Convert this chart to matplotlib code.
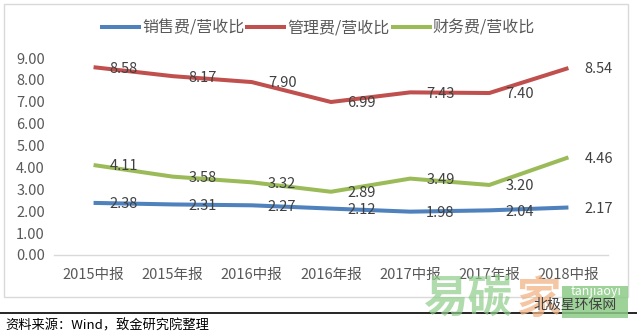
import matplotlib
matplotlib.use("Agg")
import matplotlib.pyplot as plt
from matplotlib.patches import Rectangle
from matplotlib.lines import Line2D

plt.rcParams["font.family"] = ["Noto Sans CJK SC", "DejaVu Sans"]

W, H = 637, 334

categories = ["2015中报", "2015年报", "2016中报", "2016年报", "2017中报", "2017年报", "2018中报"]
series_names = ["销售费/营收比", "管理费/营收比", "财务费/营收比"]
sales = [2.38, 2.31, 2.27, 2.12, 1.98, 2.04, 2.17]
admin = [8.58, 8.17, 7.90, 6.99, 7.43, 7.40, 8.54]
finance = [4.11, 3.58, 3.32, 2.89, 3.49, 3.20, 4.46]
yticks = [0, 1, 2, 3, 4, 5, 6, 7, 8, 9]
colors = ["#4F81BD", "#C0504D", "#9BBB59"]
source = "资料来源：Wind，致金研究院整理"


def fx(x):
    return x / W


def fy(y):
    return 1 - y / H


fig = plt.figure(figsize=(W / 100, H / 100), dpi=100)
fig.patch.set_facecolor("white")

# outer chart frame
fig.patches.append(Rectangle((fx(4), fy(297)), fx(624), 293 / H, transform=fig.transFigure,
                             fill=False, edgecolor="#d9d9d9", lw=1.0))

ax = fig.add_axes([fx(54), fy(255), fx(608 - 54), (255 - 58) / H])
ax.set_facecolor("none")
x = list(range(len(categories)))
for vals, c, name in zip([sales, admin, finance], colors, series_names):
    ax.plot(x, vals, color=c, lw=2.9, solid_capstyle="butt", label=name)
    for xi, v in zip(x, vals):
        ax.annotate(f"{v:.2f}", (xi, v), xytext=(11.5, -1), textcoords="offset points",
                    ha="left", va="center", fontsize=10.5, color="#404040")

ax.set_xlim(-0.5, len(categories) - 0.5)
ax.set_ylim(0, 9)
ax.set_yticks(yticks)
ax.set_yticklabels([f"{v:.2f}" for v in yticks])
ax.set_xticks(x)
ax.set_xticklabels(categories)
ax.tick_params(axis="both", length=0, labelsize=10.5, labelcolor="#595959")
ax.tick_params(axis="x", pad=9)
ax.tick_params(axis="y", pad=6.5)
for s in ["top", "right", "left"]:
    ax.spines[s].set_visible(False)
ax.spines["bottom"].set_color("#d9d9d9")
ax.spines["bottom"].set_linewidth(1.0)

handles = [Line2D([0], [0], color=c, lw=2.9) for c in colors]
fig.legend(handles, series_names, loc="center", bbox_to_anchor=(0.5, fy(28)), ncol=3,
           frameon=False, fontsize=11.5, handlelength=2.3, handletextpad=0.2,
           columnspacing=0.2, labelcolor="#595959")

# watermark
fig.patches.append(Rectangle((fx(562), fy(318)), fx(66), 32 / H, transform=fig.transFigure,
                             facecolor="#8cca86", edgecolor="none", alpha=0.85, zorder=4))
fig.text(fx(596), fy(291), "tanjiaoyi", fontsize=9, color="white", style="italic",
         ha="center", va="center", zorder=5)
fig.text(fx(468), fy(300), "易碳", fontsize=32, color="#8fce8a", alpha=0.7,
         ha="center", va="center", fontweight="bold", zorder=5)
fig.text(fx(538), fy(300), "家", fontsize=32, color="#f2b484", alpha=0.75,
         ha="center", va="center", fontweight="bold", zorder=5)
fig.text(fx(575), fy(305), "北极星环保网", fontsize=10, color="#404040",
         ha="center", va="center", zorder=6)

# separator and source
fig.add_artist(Line2D([0, 1], [fy(313), fy(313)], color="black", lw=1.2,
                      transform=fig.transFigure))
fig.text(fx(5), fy(326), source, fontsize=9.5, color="black", ha="left", va="center")

fig.savefig("out.png", dpi=100)
